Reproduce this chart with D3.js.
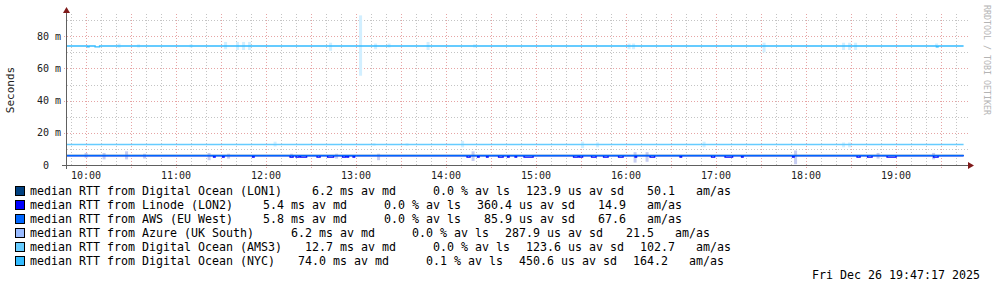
<!DOCTYPE html>
<html>
<head>
<meta charset="utf-8">
<script src="https://cdn.jsdelivr.net/npm/d3@7"></script>
<style>
  html, body { margin: 0; padding: 0; background: #fff; }
  svg text { font-family: "DejaVu Sans Mono", monospace; white-space: pre; }
</style>
</head>
<body>
<div id="chart"></div>
<script>
// Smokeping multi-target RTT graph (rrdtool look)

// --- data ---
const seriesNames = ["Digital Ocean (LON1)", "Linode (LON2)", "AWS (EU West)", "Azure (UK South) ", "Digital Ocean (AMS3)", "Digital Ocean (NYC)"];
const seriesColors = ["#004080", "#0000ff", "#0066ff", "#99bbff", "#66ccff", "#33bbff"];
const medAvg = ["6.2", "5.4", "5.8", "6.2", "12.7", "74.0"];
const lossAvg = ["0.0", "0.0", "0.0", "0.0", "0.0", "0.1"];
const sdAvg = ["123.9", "360.4", "85.9", "287.9", "123.6", "450.6"];
const amAs = ["50.1", "14.9", "67.6", "21.5", "102.7", "164.2"];

// typical median (ms) of each series
const baseMedian = [5.9, 5.8, 5.8, 5.9, 12.7, 74.0];
// median excursions: [time, minutes, ms]
const lon2Dips = [["11:25", 1, 4.9], ["11:31", 1, 4.9], ["11:51", 1, 4.9], ["12:16", 2, 4.9], ["12:20", 2, 4.9],
  ["12:23", 4, 4.9], ["12:34", 2, 4.9], ["12:41", 4, 4.9], ["12:51", 2, 4.9], ["12:54", 1, 4.9], ["12:58", 1, 4.9],
  ["14:14", 2, 4.9], ["14:21", 1, 4.9], ["14:27", 1, 4.9], ["14:35", 3, 4.9], ["14:41", 1, 4.9], ["14:46", 1, 4.9],
  ["14:52", 6, 4.9], ["15:25", 3, 4.9], ["15:29", 2, 4.9], ["15:37", 3, 4.9], ["15:45", 3, 4.9], ["15:55", 3, 4.9],
  ["16:06", 1, 4.9], ["16:16", 3, 4.9], ["16:36", 1, 4.9], ["16:57", 2, 4.9], ["17:06", 5, 4.9], ["17:17", 1, 4.9],
  ["17:51", 1, 4.9], ["18:34", 2, 4.9], ["18:41", 3, 4.9], ["18:54", 6, 4.9], ["19:25", 3, 4.9]];
const nycDips = [["10:01", 1, 73.4], ["10:06", 3, 73.4], ["19:27", 1, 73.4]];

// smoke (min..max of pings): [time, lo ms, hi ms]
const lowSmoke = [["09:59", 4.5, 7.5], ["10:11", 3.5, 7.5], ["10:26", 3.5, 8.5], ["10:38", 4, 7], ["11:21", 3, 7.5],
  ["11:34", 4, 7], ["12:16", 4.5, 7], ["12:46", 4, 7], ["13:14", 3, 7], ["14:17", 2.5, 8.5], ["16:05", 1.5, 8],
  ["16:13", 2, 8], ["17:52", 0.5, 9], ["18:47", 4, 7.5], ["19:24", 3.5, 7.5]];
const ams3Smoke = [["12:05", 11.5, 14.5], ["13:11", 12, 13.5], ["13:33", 12, 13.5], ["14:10", 11, 15],
  ["15:30", 10.5, 14.5], ["15:40", 11, 14], ["16:51", 11, 14.5], ["18:24", 11, 14], ["18:28", 11, 14]];
const nycSmoke = [["10:21", 72.8, 75.5], ["10:34", 73, 75], ["11:09", 73, 75], ["11:32", 72, 76.5], ["11:40", 71.5, 76.5],
  ["11:44", 71.5, 76.5], ["11:48", 71.5, 76.5], ["12:42", 71, 76], ["13:02", 55.5, 93], ["13:12", 72, 75.5],
  ["13:21", 73, 75.5], ["13:47", 71.5, 76.5], ["14:18", 73, 75], ["16:01", 72, 75.5], ["16:04", 72, 75.5],
  ["17:31", 70, 76], ["18:24", 71.5, 76], ["18:28", 71.5, 76], ["18:32", 71.5, 76], ["19:26", 73, 75.5]];

const yTicks = [0, 20, 40, 60, 80];
const dateStamp = "Fri Dec 26 19:47:17 2025";

// --- layout ---
const W = 997, H = 289;
const plot = { left: 67, right: 967, top: 14, bottom: 165 };
const day = "2025-12-26T";
const t = s => new Date(day + (s.length === 5 ? s + ":00" : s));
const tStart = t("09:47:17"), tEnd = t("19:47:17"), tLast = t("19:45:00");

const x = d3.scaleTime().domain([tStart, tEnd]).range([plot.left, plot.right]);
const y = d3.scaleLinear().domain([0, 80]).range([plot.bottom, 36.3]);

const svg = d3.select("#chart").append("svg")
  .attr("width", W).attr("height", H)
  .style("display", "block");

svg.append("rect").attr("width", W).attr("height", H).attr("fill", "#fff");

// grid
const minorX = d3.timeMinute.every(10).range(tStart, tEnd).filter(d => d.getMinutes() % 30 !== 0);
const majorX = d3.timeMinute.every(30).range(tStart, tEnd);
const gridG = svg.append("g");
gridG.selectAll(".mx").data(minorX).enter().append("line")
  .attr("x1", d => Math.round(x(d)) + 0.5).attr("x2", d => Math.round(x(d)) + 0.5)
  .attr("y1", plot.top).attr("y2", plot.bottom)
  .attr("stroke", "#c4c4c4").attr("stroke-dasharray", "1,2");
const minorY = d3.range(10, 95, 10).filter(v => v % 20 !== 0);
gridG.selectAll(".my").data(minorY).enter().append("line")
  .attr("x1", plot.left).attr("x2", plot.right + 1)
  .attr("y1", d => Math.round(y(d)) + 0.5).attr("y2", d => Math.round(y(d)) + 0.5)
  .attr("stroke", "#c4c4c4").attr("stroke-dasharray", "1,2");
gridG.selectAll(".Mx").data(majorX).enter().append("line")
  .attr("x1", d => Math.round(x(d)) + 0.5).attr("x2", d => Math.round(x(d)) + 0.5)
  .attr("y1", plot.top).attr("y2", plot.bottom + 3)
  .attr("stroke", "#e6a4a4").attr("stroke-dasharray", "1,2");
gridG.selectAll(".My").data(yTicks.filter(v => v > 0)).enter().append("line")
  .attr("x1", plot.left - 3).attr("x2", plot.right + 1)
  .attr("y1", d => Math.round(y(d)) + 0.5).attr("y2", d => Math.round(y(d)) + 0.5)
  .attr("stroke", "#e6a4a4").attr("stroke-dasharray", "1,2");

// smoke
const smokeW = x(t("10:02")) - x(t("10:00"));
function drawSmoke(list, color) {
  svg.append("g").selectAll("rect").data(list).enter().append("rect")
    .attr("x", d => x(t(d[0])))
    .attr("width", smokeW)
    .attr("y", d => y(d[2]))
    .attr("height", d => y(d[1]) - y(d[2]))
    .attr("fill", color);
}
drawSmoke(lowSmoke, "#c6cdf2");
drawSmoke(ams3Smoke, "#d2efff");
drawSmoke(nycSmoke, "#d2efff");

// median lines
function medianPoints(base, dips) {
  const pts = [[tStart, base]];
  dips.forEach(d => {
    const a = t(d[0]);
    pts.push([a, d[2]]);
    pts.push([d3.timeMinute.offset(a, d[1]), base]);
  });
  pts.push([tLast, base]);
  return pts;
}
const medians = baseMedian.map((b, i) => {
  if (i === 1) return medianPoints(b, lon2Dips);
  if (i === 5) return medianPoints(b, nycDips);
  return medianPoints(b, []);
});
const line = d3.line().x(d => x(d[0])).y(d => y(d[1])).curve(d3.curveStepAfter);
const drawOrder = [0, 3, 1, 2, 4, 5];
drawOrder.forEach(i => {
  svg.append("path").datum(medians[i])
    .attr("d", line)
    .attr("fill", "none")
    .attr("stroke", seriesColors[i])
    .attr("stroke-width", 1.4);
});

// axes
const axisColor = "#606060", arrowColor = "#7f1a1a";
svg.append("line").attr("x1", plot.left - 5).attr("x2", plot.right + 2)
  .attr("y1", plot.bottom + 0.5).attr("y2", plot.bottom + 0.5).attr("stroke", axisColor);
svg.append("line").attr("x1", plot.left - 0.5).attr("x2", plot.left - 0.5)
  .attr("y1", plot.bottom + 4).attr("y2", plot.top - 2).attr("stroke", axisColor);
svg.append("path").attr("d", `M${plot.left - 4},${plot.top - 1}L${plot.left - 0.5},${plot.top - 7}L${plot.left + 3},${plot.top - 1}Z`)
  .attr("fill", arrowColor);
svg.append("path").attr("d", `M${plot.right + 1},${plot.bottom - 3}L${plot.right + 7},${plot.bottom + 0.5}L${plot.right + 1},${plot.bottom + 4}Z`)
  .attr("fill", arrowColor);

// tick labels
const hours = d3.timeHour.every(1).range(tStart, tEnd);
svg.append("g").selectAll("text").data(hours).enter().append("text")
  .attr("x", d => x(d)).attr("y", plot.bottom + 14)
  .attr("text-anchor", "middle").attr("font-size", "10px").attr("fill", "#202020")
  .text(d3.timeFormat("%H:%M"));
svg.append("g").selectAll("text").data(yTicks).enter().append("text")
  .attr("x", 61).attr("y", d => y(d) + 3.5)
  .attr("text-anchor", "end").attr("font-size", "10px").attr("fill", "#202020")
  .text(d => d === 0 ? "0  " : d + " m");

svg.append("text").attr("transform", "translate(14,90) rotate(-90)")
  .attr("text-anchor", "middle").attr("font-size", "11px").attr("fill", "#202020")
  .text("Seconds");
svg.append("text").attr("transform", "translate(984,5) rotate(90)")
  .attr("font-size", "8.3px").attr("fill", "#b4b4b4")
  .text("RRDTOOL / TOBI OETIKER");

// legend: rrdtool-style left-justified chunks with a fixed gap
const charW = 7.0, chunkGap = 16;
const fmt5 = v => v.padStart(5, " ");
const legend = svg.append("g").attr("font-size", (charW / 0.602).toFixed(2) + "px").attr("fill", "#000");
seriesNames.forEach((name, i) => {
  const cy = 191 + i * 14;
  legend.append("rect").attr("x", 15.5).attr("y", cy - 4.5).attr("width", 9).attr("height", 9)
    .attr("fill", seriesColors[i]).attr("stroke", "#000");
  const chunks = [
    "median RTT from " + name,
    fmt5(medAvg[i]) + " ms av md ",
    fmt5(lossAvg[i]) + " % av ls",
    fmt5(sdAvg[i]) + " us av sd",
    fmt5(amAs[i]) + "   am/as"
  ];
  let cx = 30;
  chunks.forEach(c => {
    legend.append("text").attr("x", cx).attr("y", cy + 4).text(c);
    cx += c.length * charW + chunkGap;
  });
});
svg.append("text").attr("x", 980).attr("y", 279).attr("text-anchor", "end")
  .attr("font-size", (charW / 0.602).toFixed(2) + "px").attr("fill", "#000").text(dateStamp);
</script>
</body>
</html>
